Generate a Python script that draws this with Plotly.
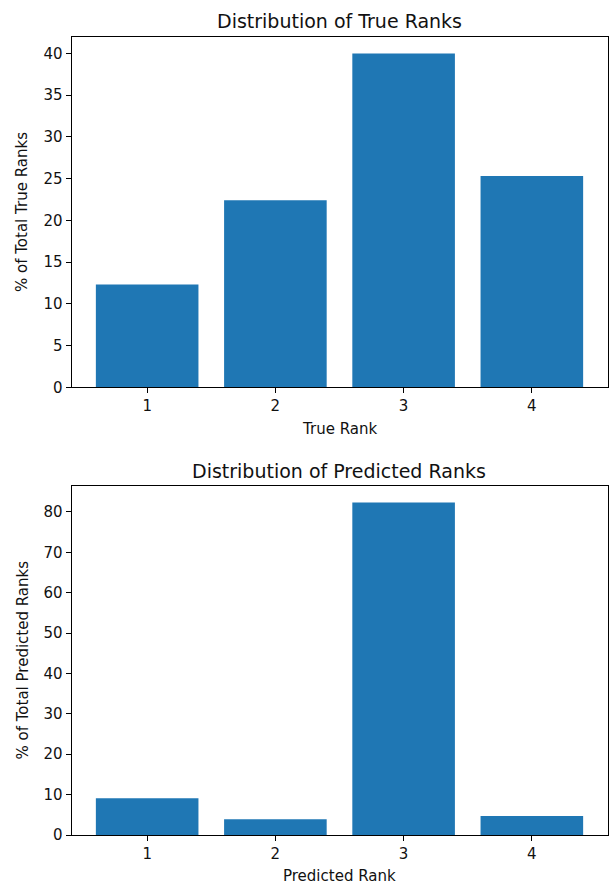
import plotly.graph_objects as go

ranks = [1, 2, 3, 4]
true_pct = [12.3, 22.4, 40.0, 25.3]
pred_pct = [9.1, 3.9, 82.3, 4.7]

W, H = 609, 885
FONT = "DejaVu Sans"
BLUE = "#1f77b4"

def py(px):
    return 1 - px / H

x_dom = [71.5 / W, 607.5 / W]
top = (36.7, 387.3)
bot = (486.0, 835.0)

fig = go.Figure()
fig.add_trace(go.Bar(x=ranks, y=true_pct, width=0.8, marker=dict(color=BLUE, line=dict(width=0)),
                     xaxis="x", yaxis="y", showlegend=False))
fig.add_trace(go.Bar(x=ranks, y=pred_pct, width=0.8, marker=dict(color=BLUE, line=dict(width=0)),
                     xaxis="x2", yaxis="y2", showlegend=False))

axis_common = dict(showline=True, mirror=True, linecolor="black", linewidth=1,
                   ticks="outside", ticklen=5, tickwidth=1, tickcolor="black",
                   showgrid=False, zeroline=False, automargin=False,
                   tickfont=dict(family=FONT, size=15, color="#111"))

fig.update_layout(
    width=W, height=H, margin=dict(l=0, r=0, t=0, b=0, autoexpand=False),
    paper_bgcolor="white", plot_bgcolor="white",
    font=dict(family=FONT, color="#111"),
    xaxis=dict(domain=x_dom, anchor="y", range=[0.41, 4.59], tickvals=ranks, **axis_common),
    yaxis=dict(domain=[py(top[1]), py(top[0])], anchor="x",
               range=[0, max(true_pct) * 1.05], tickvals=[0, 5, 10, 15, 20, 25, 30, 35, 40], **axis_common),
    xaxis2=dict(domain=x_dom, anchor="y2", range=[0.41, 4.59], tickvals=ranks, **axis_common),
    yaxis2=dict(domain=[py(bot[1]), py(bot[0])], anchor="x2",
                range=[0, max(pred_pct) * 1.05], tickvals=[0, 10, 20, 30, 40, 50, 60, 70, 80], **axis_common),
)

xc = (x_dom[0] + x_dom[1]) / 2
ann = [
    dict(text="Distribution of True Ranks", x=xc, y=py(21.5), size=19),
    dict(text="Distribution of Predicted Ranks", x=xc, y=py(470.5), size=19),
    dict(text="True Rank", x=xc, y=py(428.5), size=15),
    dict(text="Predicted Rank", x=xc, y=py(876.0), size=15),
]
annotations = []
for a in ann:
    annotations.append(dict(text=a["text"], x=a["x"], y=a["y"], xref="paper", yref="paper",
                            xanchor="center", yanchor="middle", showarrow=False,
                            font=dict(family=FONT, size=a["size"], color="#111")))
for txt, yc in [("% of Total True Ranks", (top[0] + top[1]) / 2),
                ("% of Total Predicted Ranks", (bot[0] + bot[1]) / 2)]:
    annotations.append(dict(text=txt, x=22 / W, y=py(yc), xref="paper", yref="paper",
                            xanchor="center", yanchor="middle", showarrow=False, textangle=-90,
                            font=dict(family=FONT, size=15, color="#111")))
fig.update_layout(annotations=annotations)

fig.write_html("out.html", config={"displayModeBar": False},
               post_script="document.body.style.margin='0';document.body.style.overflow='hidden';")
